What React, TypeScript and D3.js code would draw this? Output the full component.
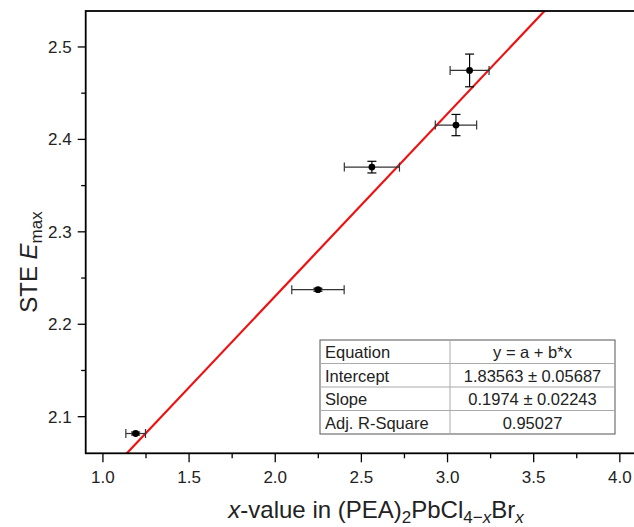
import React from "react";
import * as d3 from "d3";

const xValues = [1.19, 2.248, 2.561, 3.049, 3.128];
const yValues = [2.0818, 2.2374, 2.37, 2.4155, 2.4746];
const xErrors = [0.057, 0.152, 0.16, 0.12, 0.113];
const yErrors = [0.0016, 0.0016, 0.0063, 0.0115, 0.0177];

const fitIntercept = 1.83563;
const fitSlope = 0.1974;

const xTicks = [1.0, 1.5, 2.0, 2.5, 3.0, 3.5, 4.0];
const xMinorTicks = [1.25, 1.75, 2.25, 2.75, 3.25, 3.75];
const yTicks = [2.1, 2.2, 2.3, 2.4, 2.5];
const yMinorTicks = [2.15, 2.25, 2.35, 2.45];

const tableLabels = ["Equation", "Intercept", "Slope", "Adj. R-Square"];
const tableValues = ["y = a + b*x", "1.83563 \u00b1 0.05687", "0.1974 \u00b1 0.02243", "0.95027"];

const W = 634;
const H = 527;
const left = 85.7;
const top = 11;
const bottom = 453.3;

export default function App() {
  const x = d3.scaleLinear().domain([0.9, 4.1]).range([left, left + 3.2 * 172.3]);
  const y = d3.scaleLinear().domain([2.0604, 2.5389]).range([bottom, top]);
  const right = x(4.1);
  const font = "Arial, 'Liberation Sans', sans-serif";

  const fitX0 = x.invert(left);
  const fitX1 = x.invert(right);
  const line = d3.line<number>().x((d) => x(d)).y((d) => y(fitIntercept + fitSlope * d));

  const tX = 320, tY = 340, tW = 295, rowH = 23.5, colX = 450;

  return (
    <svg width={W} height={H} style={{ position: "absolute", left: 0, top: 0, background: "#fff" }} fontFamily={font}>
      <defs>
        <clipPath id="plotClip">
          <rect x={left} y={top} width={right - left} height={bottom - top} />
        </clipPath>
      </defs>
      {/* x ticks */}
      {xTicks.map((t) => (
        <g key={"xt" + t}>
          <line x1={x(t)} x2={x(t)} y1={bottom} y2={bottom + 9} stroke="#000" strokeWidth={1.3} />
          <text x={x(t)} y={483} textAnchor="middle" fontSize={17} fill="#222">{t.toFixed(1)}</text>
        </g>
      ))}
      {xMinorTicks.map((t) => (
        <line key={"xm" + t} x1={x(t)} x2={x(t)} y1={bottom} y2={bottom + 5} stroke="#000" strokeWidth={1.3} />
      ))}
      {/* y ticks */}
      {yTicks.map((t) => (
        <g key={"yt" + t}>
          <line x1={left - 8} x2={left} y1={y(t)} y2={y(t)} stroke="#000" strokeWidth={1.3} />
          <text x={left - 14} y={y(t) + 6} textAnchor="end" fontSize={17} fill="#222">{t.toFixed(1)}</text>
        </g>
      ))}
      {yMinorTicks.map((t) => (
        <line key={"ym" + t} x1={left - 4.5} x2={left} y1={y(t)} y2={y(t)} stroke="#000" strokeWidth={1.3} />
      ))}

      {/* fit line */}
      <path d={line([fitX0, fitX1]) || ""} stroke="#ee1111" strokeWidth={2.2} fill="none" clipPath="url(#plotClip)" />

      {/* error bars and points */}
      {xValues.map((xv, i) => {
        const cx = x(xv), cy = y(yValues[i]);
        const xl = x(xv - xErrors[i]), xr = x(xv + xErrors[i]);
        const yt = y(yValues[i] + yErrors[i]), yb = y(yValues[i] - yErrors[i]);
        return (
          <g key={"p" + i}>
            <line x1={xl} x2={xr} y1={cy} y2={cy} stroke="#333" strokeWidth={1.2} />
            <line x1={xl} x2={xl} y1={cy - 4.5} y2={cy + 4.5} stroke="#333" strokeWidth={1.2} />
            <line x1={xr} x2={xr} y1={cy - 4.5} y2={cy + 4.5} stroke="#333" strokeWidth={1.2} />
            <line x1={cx} x2={cx} y1={yt} y2={yb} stroke="#000" strokeWidth={1.2} />
            <line x1={cx - 4.5} x2={cx + 4.5} y1={yt} y2={yt} stroke="#000" strokeWidth={1.2} />
            <line x1={cx - 4.5} x2={cx + 4.5} y1={yb} y2={yb} stroke="#000" strokeWidth={1.2} />
            <circle cx={cx} cy={cy} r={3.4} fill="#000" />
          </g>
        );
      })}

      {/* frame */}
      <rect x={left} y={top} width={right - left} height={bottom - top} fill="none" stroke="#000" strokeWidth={1.8} />

      {/* table */}
      <g>
        <rect x={tX} y={tY} width={tW} height={rowH * 4} fill="#fff" stroke="#555" strokeWidth={1} />
        {[1, 2, 3].map((r) => (
          <line key={"tr" + r} x1={tX} x2={tX + tW} y1={tY + r * rowH} y2={tY + r * rowH} stroke="#aaa" strokeWidth={1} />
        ))}
        <line x1={colX} x2={colX} y1={tY} y2={tY + 4 * rowH} stroke="#aaa" strokeWidth={1} />
        {tableLabels.map((l, i) => (
          <text key={"tl" + i} x={tX + 5} y={tY + i * rowH + 18} fontSize={16.5} fill="#222">{l}</text>
        ))}
        {tableValues.map((v, i) => (
          <text key={"tv" + i} x={(colX + tX + tW) / 2} y={tY + i * rowH + 18} fontSize={16.5} fill="#222" textAnchor="middle">{v}</text>
        ))}
      </g>

      {/* axis titles */}
      <text x={376} y={518} textAnchor="middle" fontSize={24} fill="#222">
        <tspan fontStyle="italic">x</tspan>
        <tspan>-value in (PEA)</tspan>
        <tspan fontSize={17} dy={5}>2</tspan>
        <tspan dy={-5}>PbCl</tspan>
        <tspan fontSize={17} dy={5}>4{"\u2212"}</tspan>
        <tspan fontSize={17} fontStyle="italic">x</tspan>
        <tspan dy={-5}>Br</tspan>
        <tspan fontSize={17} fontStyle="italic" dy={5}>x</tspan>
      </text>
      <text transform={`translate(37, 262) rotate(-90)`} textAnchor="middle" fontSize={24} fill="#222">
        <tspan>STE </tspan>
        <tspan fontStyle="italic">E</tspan>
        <tspan fontSize={17} dy={5}>max</tspan>
      </text>
    </svg>
  );
}
